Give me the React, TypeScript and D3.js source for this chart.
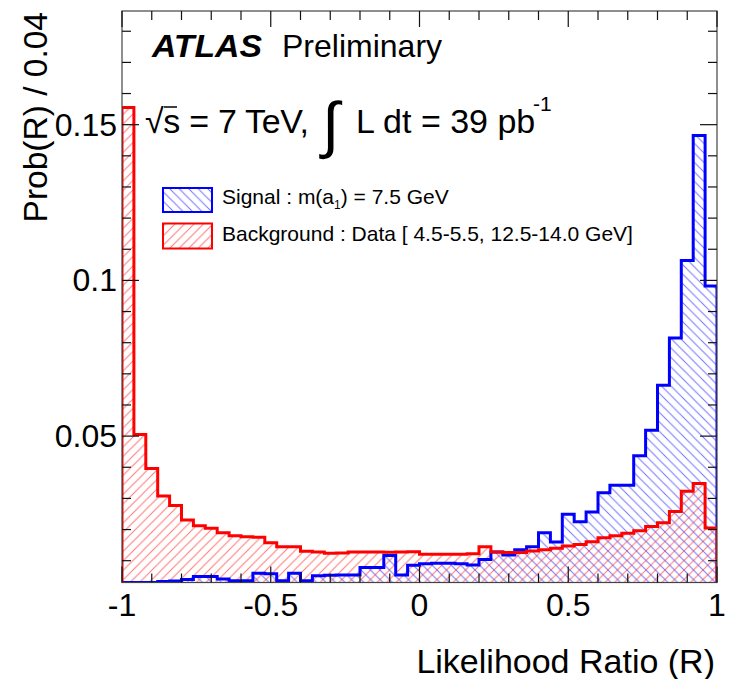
import React from "react";
import * as d3 from "d3";

// Histogram: 50 bins of width 0.04 from R = -1 to R = 1
const BIN_LOW = -1;
const BIN_WIDTH = 0.04;

const signal = [
  0.0008, 0.001, 0.0015, 0.0033, 0.0035, 0.004, 0.0049, 0.0049, 0.0041, 0.0036,
  0.0036, 0.006, 0.0058, 0.0036, 0.006, 0.0036, 0.0052, 0.0053, 0.0054, 0.0054,
  0.0078, 0.0078, 0.0117, 0.0054, 0.0085, 0.009, 0.0092, 0.0092, 0.009, 0.0086,
  0.0104, 0.0128, 0.0118, 0.0135, 0.0145, 0.019, 0.016, 0.0249, 0.0225, 0.0256,
  0.0318, 0.0342, 0.0342, 0.0437, 0.0519, 0.0663, 0.0815, 0.1064, 0.1465, 0.0982,
];

const background = [
  0.1555, 0.0505, 0.0396, 0.0308, 0.0277, 0.0231, 0.0212, 0.0204, 0.019, 0.018,
  0.0177, 0.0175, 0.0158, 0.0145, 0.0145, 0.013, 0.0128, 0.0124, 0.0125, 0.0128,
  0.0128, 0.0128, 0.0127, 0.0128, 0.0129, 0.0121, 0.0121, 0.0121, 0.0121, 0.0122,
  0.0145, 0.0128, 0.0126, 0.0126, 0.0131, 0.0135, 0.014, 0.0147, 0.0152, 0.0161,
  0.0174, 0.018, 0.0188, 0.0196, 0.021, 0.0222, 0.0258, 0.0323, 0.0348, 0.0205,
];

const xTickValues = [-1, -0.5, 0, 0.5, 1];
const xTickLabels = ["-1", "-0.5", "0", "0.5", "1"];
const yTickValues = [0.05, 0.1, 0.15];
const yTickLabels = ["0.05", "0.1", "0.15"];

const FONT = "'Liberation Sans', Arial, Helvetica, sans-serif";

export default function App() {
  const W = 732;
  const H = 679;
  const left = 122;
  const right = 717;
  const top = 11;
  const bottom = 582.5;

  const x = d3.scaleLinear().domain([-1, 1]).range([left, right]);
  const y = d3.scaleLinear().domain([0.003, 0.1865]).range([bottom, top]).clamp(true);

  const histPath = (vals: number[]) => {
    const pts: [number, number][] = [];
    pts.push([x(BIN_LOW), bottom]);
    vals.forEach((v, i) => pts.push([x(BIN_LOW + i * BIN_WIDTH), y(v)]));
    pts.push([x(BIN_LOW + vals.length * BIN_WIDTH), y(vals[vals.length - 1])]);
    pts.push([x(BIN_LOW + vals.length * BIN_WIDTH), bottom]);
    return d3.line().curve(d3.curveStepAfter)(pts) as string;
  };

  const sigPath = histPath(signal);
  const bkgPath = histPath(background);

  const xMinor = d3.range(-10, 11).map((i) => i / 10).filter((v) => !xTickValues.some((t) => Math.abs(t - v) < 1e-9));
  const yMinor = d3.range(1, 19).map((i) => i / 100).filter((v) => !yTickValues.some((t) => Math.abs(t - v) < 1e-9));

  const majX = 16, minX = 9, majY = 17, minY = 9;

  return (
    <svg width={W} height={H} style={{ position: "absolute", left: 0, top: 0, background: "#fff" }} fontFamily={FONT}>
      <defs>
        <pattern id="hatchBlue" patternUnits="userSpaceOnUse" width="9.5" height="9.5">
          <path d="M0,0 L9.5,9.5 M-1,8.5 L1,10.5 M8.5,-1 L10.5,1" stroke="#2a2aff" strokeWidth="1" strokeOpacity="0.65" />
        </pattern>
        <pattern id="hatchRed" patternUnits="userSpaceOnUse" width="9.5" height="9.5">
          <path d="M0,9.5 L9.5,0 M-1,1 L1,-1 M8.5,10.5 L10.5,8.5" stroke="#ff2a2a" strokeWidth="1" strokeOpacity="0.65" />
        </pattern>
        <clipPath id="frameClip">
          <rect x={left} y={top} width={right - left} height={bottom - top} />
        </clipPath>
      </defs>

      <rect x={0} y={0} width={W} height={H} fill="#fff" />

      <g clipPath="url(#frameClip)">
        <path d={sigPath} fill="url(#hatchBlue)" stroke="none" />
        <path d={bkgPath} fill="url(#hatchRed)" stroke="none" />
        <path d={sigPath} fill="none" stroke="#0000ff" strokeWidth={3} />
        <path d={bkgPath} fill="none" stroke="#ff0000" strokeWidth={3} />
      </g>

      {/* frame */}
      <rect x={left} y={top} width={right - left} height={bottom - top} fill="none" stroke="#444" strokeWidth={1.2} />

      {/* ticks on all four sides */}
      <g stroke="#111" strokeWidth={1.2}>
        {xTickValues.map((v) => (
          <g key={"xM" + v}>
            <line x1={x(v)} x2={x(v)} y1={bottom} y2={bottom - majX} />
            <line x1={x(v)} x2={x(v)} y1={top} y2={top + majX} />
          </g>
        ))}
        {xMinor.map((v) => (
          <g key={"xm" + v}>
            <line x1={x(v)} x2={x(v)} y1={bottom} y2={bottom - minX} />
            <line x1={x(v)} x2={x(v)} y1={top} y2={top + minX} />
          </g>
        ))}
        {yTickValues.map((v) => (
          <g key={"yM" + v}>
            <line x1={left} x2={left + majY} y1={y(v)} y2={y(v)} />
            <line x1={right} x2={right - majY} y1={y(v)} y2={y(v)} />
          </g>
        ))}
        {yMinor.map((v) => (
          <g key={"ym" + v}>
            <line x1={left} x2={left + minY} y1={y(v)} y2={y(v)} />
            <line x1={right} x2={right - minY} y1={y(v)} y2={y(v)} />
          </g>
        ))}
      </g>

      {/* tick labels */}
      <g fontSize={32} fill="#000">
        {xTickValues.map((v, i) => (
          <text key={"xl" + v} x={x(v)} y={616} textAnchor="middle">{xTickLabels[i]}</text>
        ))}
        {yTickValues.map((v, i) => (
          <text key={"yl" + v} x={117} y={y(v) + 11} textAnchor="end">{yTickLabels[i]}</text>
        ))}
      </g>

      {/* axis titles */}
      <text x={715} y={673} textAnchor="end" fontSize={34}>Likelihood Ratio (R)</text>
      <text transform="translate(47,12) rotate(-90)" textAnchor="end" fontSize={33.5}>Prob(R) / 0.04</text>

      {/* ATLAS label */}
      <text x={152} y={57} fontSize={32} fontWeight="bold" fontStyle="italic" textLength={110} lengthAdjust="spacingAndGlyphs">ATLAS</text>
      <text x={282} y={57} fontSize={32}>Preliminary</text>

      {/* energy / luminosity */}
      <text x={145} y={133} fontSize={34} letterSpacing={-0.3}>√s = 7 TeV,</text>
      <line x1={164} x2={177} y1={107} y2={107} stroke="#000" strokeWidth={1.5} />
      <text x={322} y={146} fontSize={62}>∫</text>
      <text x={356} y={133} fontSize={34}>L dt = 39 pb</text>
      <text x={533} y={111} fontSize={21}>-1</text>

      {/* legend */}
      <rect x={163} y={188} width={49} height={24} fill="url(#hatchBlue)" stroke="#0000ff" strokeWidth={2} />
      <rect x={163} y={223.5} width={49} height={25} fill="url(#hatchRed)" stroke="#ff0000" strokeWidth={2} />
      <text x={222} y={204} fontSize={21}>
        Signal : m(a<tspan fontSize={12} dy={5}>1</tspan><tspan dy={-5}>) = 7.5 GeV</tspan>
      </text>
      <text x={222} y={241} fontSize={21}>Background : Data [ 4.5-5.5, 12.5-14.0 GeV]</text>
    </svg>
  );
}
